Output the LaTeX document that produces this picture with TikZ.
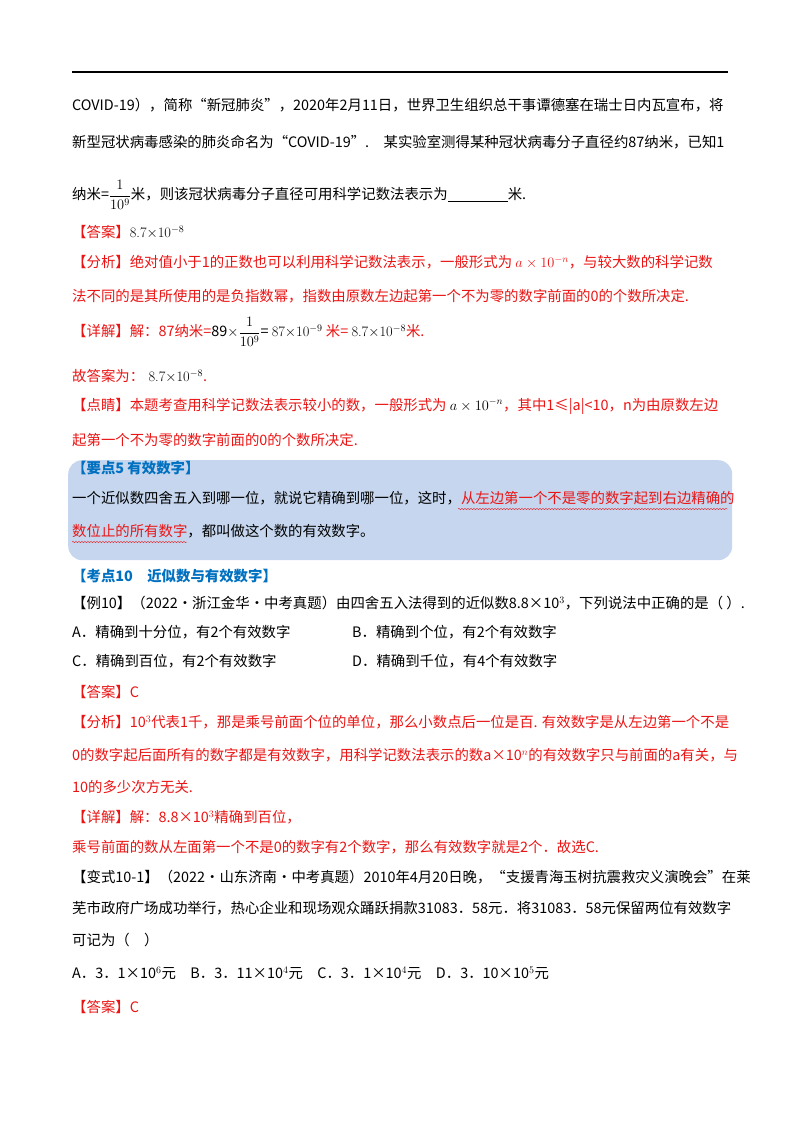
\documentclass[tikz,border=0pt]{standalone}
\usepackage{amsmath}
\usepackage{fontspec}
\setmainfont{Noto Sans CJK SC}
\newfontfamily\lm{Latin Modern Roman}
\usetikzlibrary{decorations.pathmorphing}
\definecolor{myred}{RGB}{235,20,20}
\definecolor{myblue}{RGB}{0,112,192}
\definecolor{boxblue}{RGB}{197,214,238}
\tikzset{ln/.style={anchor=west,inner sep=0pt,font=\fontsize{14.4}{17}\selectfont},
 rd/.style={ln,text=myred}, bl/.style={ln,text=myblue,font=\fontsize{14.4}{17}\selectfont\bfseries}}
\newcommand{\mth}[1]{{\lm #1}}
\begin{document}
\begin{tikzpicture}[x=1pt,y=-1pt]
\useasboundingbox (0,0) rectangle (800,1132);
\draw[line width=1.5pt] (72,72) -- (728,72);
\node[ln] (l1) at (72,105) {\textit{COVID}-19），简称“新冠肺炎”，2020年2月11日，世界卫生组织总干事谭德塞在瑞士日内瓦宣布，将};
\node[ln] (l2) at (72,142) {新型冠状病毒感染的肺炎命名为“\textit{COVID}-19”.\quad 某实验室测得某种冠状病毒分子直径约87纳米，已知1};
\node[ln] (l3) at (72,195) {纳米=$\dfrac{1}{10^9}$米，则该冠状病毒分子直径可用科学记数法表示为\underline{\hspace{60pt}}米.};
\node[ln] (l4) at (72,232) {\textcolor{myred}{【答案】}\mth{8.7$\times$10$^{-8}$}};
\node[rd] (l5) at (72,262) {【分析】绝对值小于1的正数也可以利用科学记数法表示，一般形式为 \mth{$a\times10^{-n}$}，与较大数的科学记数};
\node[rd] (l6) at (72,296) {法不同的是其所使用的是负指数幂，指数由原数左边起第一个不为零的数字前面的0的个数所决定.};
\node[rd] (l7) at (72,332) {【详解】解：87纳米=\textcolor{black}{89$\times\dfrac{1}{10^9}$= \mth{87$\times$10$^{-9}$}} 米= \textcolor{black}{\mth{8.7$\times$10$^{-8}$}}米.};
\node[rd] (l8) at (72,376) {故答案为：\textcolor{black}{\mth{ 8.7$\times$10$^{-8}$}}.};
\node[rd] (l9) at (72,406) {【点睛】本题考查用科学记数法表示较小的数，一般形式为 \textcolor{black}{\mth{$a\times10^{-n}$}}，其中1≤|\textit{a}|<10，\textit{n}为由原数左边};
\node[rd] (l10) at (72,440) {起第一个不为零的数字前面的0的个数所决定.};
\node[fill=boxblue,rounded corners=14pt,minimum width=664pt,minimum height=100pt,anchor=north west] (box) at (68,460) {};
\node[bl] (t5) at (72,468) {【要点5\ 有效数字】};
\node[ln] (b1) at (72,498) {一个近似数四舍五入到哪一位，就说它精确到哪一位，这时，\textcolor{myred}{从左边第一个不是零的数字起到右边精确的}};
\node[ln] (b2) at (72,531) {\textcolor{myred}{数位止的所有数字}，都叫做这个数的有效数字。};
\draw[myred,decorate,decoration={snake,amplitude=0.6pt,segment length=3pt}] (458,509) -- (728,509);
\draw[myred,decorate,decoration={snake,amplitude=0.6pt,segment length=3pt}] (72,542) -- (187,542);
\node[bl] (k10) at (72,576) {【考点10\quad 近似数与有效数字】};
\node[ln] (e10) at (72,603) {【例10】（2022·浙江金华·中考真题）由四舍五入法得到的近似数8.8×10$^3$，下列说法中正确的是（ ）.};
\node[ln] (oA) at (72,632) {A．精确到十分位，有2个有效数字};
\node[ln] (oB) at (352,632) {B．精确到个位，有2个有效数字};
\node[ln] (oC) at (72,661) {C．精确到百位，有2个有效数字};
\node[ln] (oD) at (352,661) {D．精确到千位，有4个有效数字};
\node[rd] (a2) at (72,692) {【答案】C};
\node[rd] (f1) at (72,722) {【分析】10$^3$代表1千，那是乘号前面个位的单位，那么小数点后一位是百. 有效数字是从左边第一个不是};
\node[rd] (f2) at (72,755) {0的数字起后面所有的数字都是有效数字，用科学记数法表示的数a×10$^n$的有效数字只与前面的a有关，与};
\node[rd] (f3) at (72,787) {10的多少次方无关.};
\node[rd] (x1) at (72,817) {【详解】解：8.8×10$^3$精确到百位，};
\node[rd] (x2) at (72,847) {乘号前面的数从左面第一个不是0的数字有2个数字，那么有效数字就是2个．故选C.};
\node[ln] (v1) at (72,877) {【变式10-1】（2022·山东济南·中考真题）2010年4月20日晚，“支援青海玉树抗震救灾义演晚会”在莱};
\node[ln] (v2) at (72,908) {芜市政府广场成功举行，热心企业和现场观众踊跃捐款31083．58元．将31083．58元保留两位有效数字};
\node[ln] (v3) at (72,940) {可记为（\quad ）};
\node[ln] (v4) at (72,973) {A．3．1×10$^6$元\quad B．3．11×10$^4$元\quad C．3．1×10$^4$元\quad D．3．10×10$^5$元};
\node[rd] (a3) at (72,1007) {【答案】C};
\end{tikzpicture}
\end{document}
